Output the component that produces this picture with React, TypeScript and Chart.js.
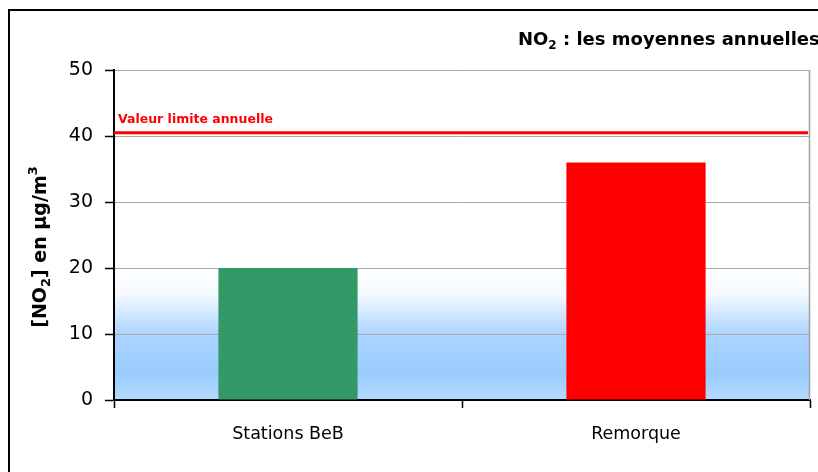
import React, { useEffect, useRef } from "react";
import { Chart, registerables } from "chart.js";
Chart.register(...registerables);

const categories = ["Stations BeB", "Remorque"];
const values = [20, 36];
const barColors = ["#339966", "#FF0000"];
const yMin = 0;
const yMax = 50;
const yStep = 10;
const limitValue = 40.5;
const limitLabel = "Valeur limite annuelle";
const titleParts = ["NO", "2", " : les moyennes annuelles"];
const yTitleParts = ["[NO", "2", "] en µg/m", "3"];

const FONT = "'DejaVu Sans', sans-serif";

const decorPlugin = {
  id: "decor",
  beforeDraw(chart: any) {
    const { ctx, chartArea, scales } = chart;
    const y = scales.y;
    ctx.save();
    const top = y.getPixelForValue(20);
    const g = ctx.createLinearGradient(0, top, 0, y.getPixelForValue(0));
    g.addColorStop(0, "#ffffff");
    g.addColorStop(0.2, "#f4f9ff");
    g.addColorStop(0.5, "#add4ff");
    g.addColorStop(0.8, "#99ccff");
    g.addColorStop(1, "#b4dbff");
    ctx.fillStyle = g;
    ctx.fillRect(chartArea.left, top, chartArea.right - chartArea.left, chartArea.bottom - top);
    ctx.strokeStyle = "#000";
    ctx.lineWidth = 2;
    ctx.strokeRect(9, 10, 1000, 1000);
    ctx.restore();
  },
  afterDraw(chart: any) {
    const { ctx, chartArea, scales } = chart;
    const y = scales.y;
    ctx.save();
    ctx.strokeStyle = "#a0a0a0";
    ctx.lineWidth = 1.5;
    ctx.beginPath();
    ctx.moveTo(chartArea.right - 0.5, chartArea.top);
    ctx.lineTo(chartArea.right - 0.5, chartArea.bottom);
    ctx.stroke();
    const ly = y.getPixelForValue(limitValue);
    ctx.strokeStyle = "#FF0000";
    ctx.lineWidth = 3;
    ctx.beginPath();
    ctx.moveTo(chartArea.left, ly);
    ctx.lineTo(chartArea.right - 2, ly);
    ctx.stroke();
    ctx.fillStyle = "#FF0000";
    ctx.font = `bold 12.5px ${FONT}`;
    ctx.textBaseline = "alphabetic";
    ctx.textAlign = "left";
    ctx.fillText(limitLabel, chartArea.left + 4, ly - 10);

    ctx.fillStyle = "#000";
    let x = 518;
    const by = 45;
    ctx.font = `bold 18px ${FONT}`;
    ctx.fillText(titleParts[0], x, by);
    x += ctx.measureText(titleParts[0]).width;
    ctx.font = `bold 12px ${FONT}`;
    ctx.fillText(titleParts[1], x, by + 4);
    x += ctx.measureText(titleParts[1]).width;
    ctx.font = `bold 18px ${FONT}`;
    ctx.fillText(titleParts[2], x, by);

    ctx.translate(46, 0);
    ctx.rotate(-Math.PI / 2);
    const big = `bold 19px ${FONT}`;
    const small = `bold 13px ${FONT}`;
    const widths: number[] = [];
    yTitleParts.forEach((p, i) => {
      ctx.font = i % 2 === 0 ? big : small;
      widths.push(ctx.measureText(p).width);
    });
    const total = widths.reduce((a, b) => a + b, 0);
    let tx = -(247 + total / 2);
    yTitleParts.forEach((p, i) => {
      ctx.font = i % 2 === 0 ? big : small;
      const off = i === 1 ? 4 : i === 3 ? -9 : 0;
      ctx.fillText(p, tx, off);
      tx += widths[i];
    });
    ctx.restore();
  },
};

export default function App() {
  const ref = useRef<HTMLCanvasElement>(null);
  useEffect(() => {
    document.body.style.margin = "0";
    const chart = new Chart(ref.current!, {
      type: "bar",
      data: {
        labels: categories,
        datasets: [
          {
            data: values,
            backgroundColor: barColors,
            borderWidth: 0,
            barPercentage: 0.4,
            categoryPercentage: 1,
          },
        ],
      },
      options: {
        responsive: false,
        animation: false,
        layout: { padding: { top: 70, right: 8, left: 0, bottom: 0 } },
        plugins: { legend: { display: false }, title: { display: false }, tooltip: { enabled: false } },
        scales: {
          x: {
            afterFit: (s: any) => {
              s.height = 72;
            },
            grid: { offset: true, drawOnChartArea: false, tickLength: 8, tickColor: "#000", tickWidth: 1.5 },
            border: { color: "#000", width: 2 },
            ticks: { color: "#000", font: { family: FONT, size: 17.5 }, padding: 16 },
          },
          y: {
            min: yMin,
            max: yMax,
            afterFit: (s: any) => {
              s.width = 114;
            },
            grid: { color: "#a8a8a8", lineWidth: 1, tickLength: 9, tickColor: "#000", tickWidth: 1.5 },
            border: { color: "#000", width: 2 },
            ticks: { stepSize: yStep, color: "#000", font: { family: FONT, size: 19 }, padding: 12 },
          },
        },
      },
      plugins: [decorPlugin],
    });
    return () => chart.destroy();
  }, []);
  return (
    <canvas
      ref={ref}
      width={818}
      height={472}
      style={{ position: "absolute", left: 0, top: 0, width: 818, height: 472 }}
    />
  );
}
